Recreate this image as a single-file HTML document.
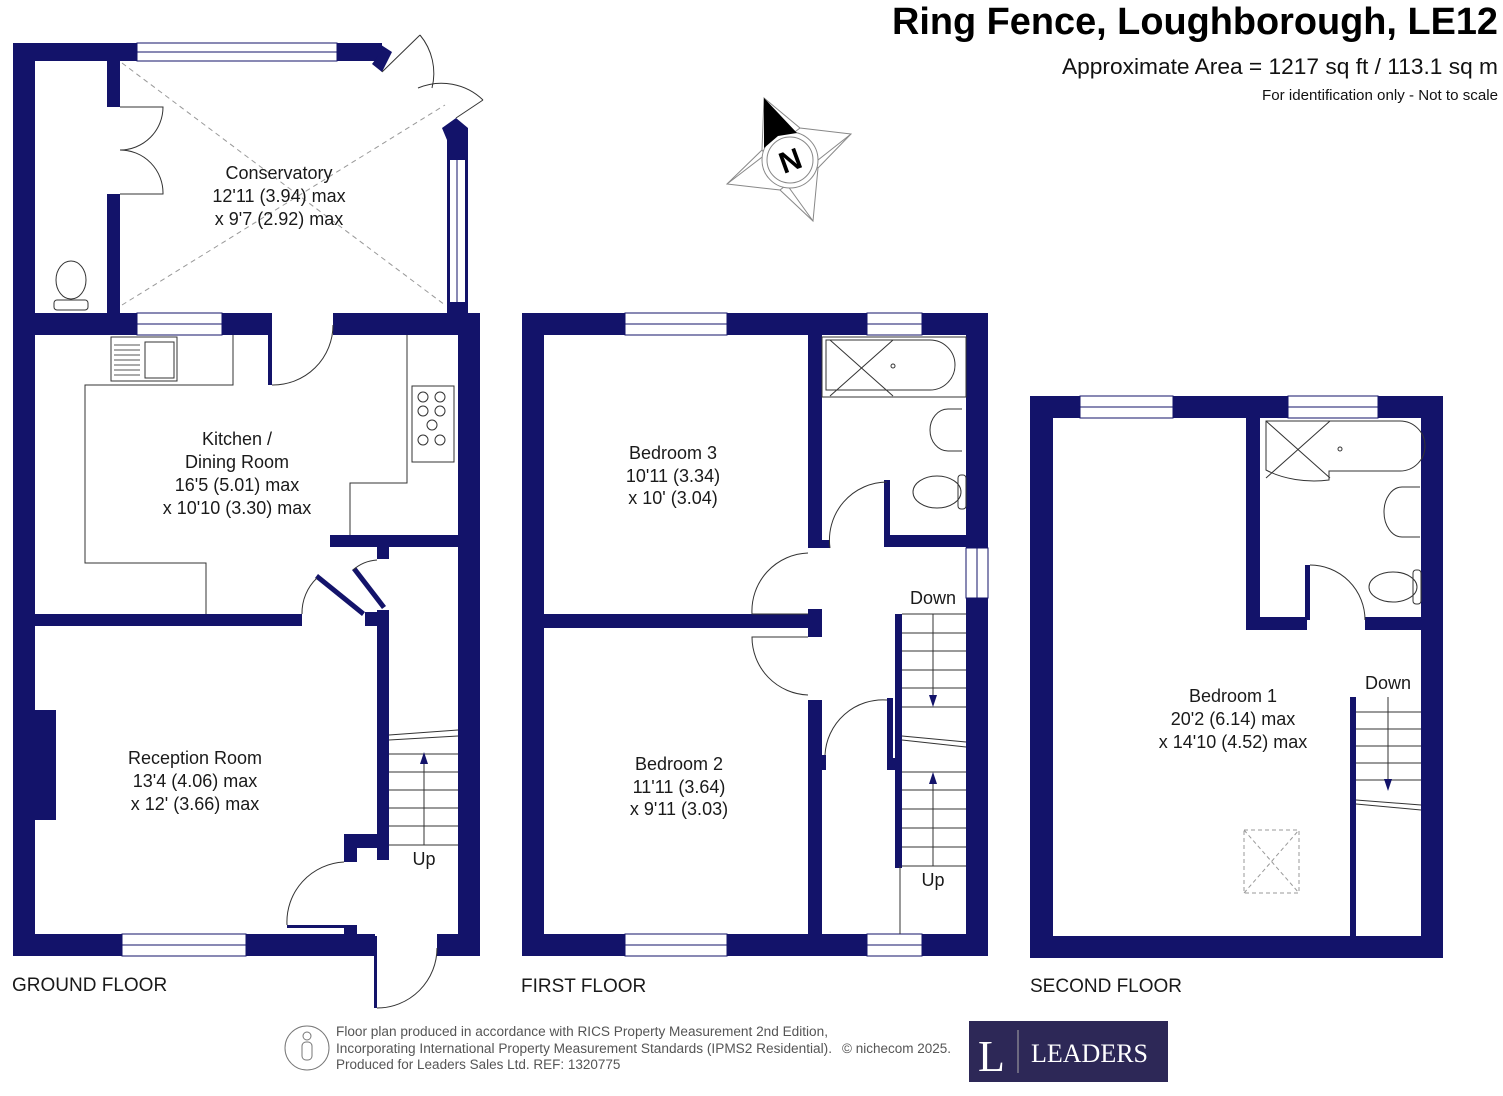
<!DOCTYPE html>
<html><head><meta charset="utf-8"><style>
html,body{margin:0;padding:0;background:#fff;}
svg{display:block;}
text{font-family:"Liberation Sans",sans-serif;fill:#1a1a1a;}
</style></head><body>
<svg width="1503" height="1096" viewBox="0 0 1503 1096" xmlns="http://www.w3.org/2000/svg">
<g fill="#13136a">
<!-- GROUND FLOOR -->
<rect x="13" y="43" width="22" height="913"/>
<rect x="13" y="43" width="124" height="18"/>
<rect x="337" y="43" width="45" height="18"/>
<polygon points="378,43 392,52 382,72 372,64 378,56"/>
<rect x="107" y="61" width="13" height="46"/>
<rect x="107" y="194" width="13" height="119"/>
<polygon points="442,128 456,118 468,128 468,160 447,160 447,140"/>
<rect x="447" y="150" width="3" height="155"/>
<rect x="465" y="150" width="3" height="155"/>
<rect x="447" y="302" width="21" height="11"/>
<rect x="13" y="313" width="124" height="22"/>
<rect x="222" y="313" width="48" height="22"/>
<rect x="268" y="313" width="4" height="72"/>
<rect x="333" y="313" width="147" height="22"/>
<rect x="458" y="313" width="22" height="643"/>
<rect x="35" y="614" width="267" height="12"/>
<rect x="330" y="535" width="128" height="12"/>
<rect x="377" y="547" width="12" height="12"/>
<rect x="365" y="612" width="24" height="14"/>
<rect x="377" y="610" width="12" height="250"/>
<rect x="344" y="834" width="45" height="14"/>
<rect x="344" y="834" width="13" height="28"/>
<rect x="35" y="710" width="21" height="110"/>
<rect x="13" y="934" width="109" height="22"/>
<rect x="246" y="934" width="129" height="22"/>
<rect x="437" y="934" width="43" height="22"/>
<rect x="344" y="925" width="13" height="12"/>
<rect x="287" y="925" width="60" height="3"/>
<rect x="374" y="936" width="3" height="72"/>
<polygon points="315,578 318,574 365,612 362,616"/>
<polygon points="352,570 356,567 386,606 382,609"/>
<!-- FIRST FLOOR -->
<rect x="522" y="313" width="103" height="22"/>
<rect x="727" y="313" width="140" height="22"/>
<rect x="922" y="313" width="66" height="22"/>
<rect x="522" y="313" width="22" height="643"/>
<rect x="966" y="313" width="22" height="235"/>
<rect x="966" y="598" width="22" height="358"/>
<rect x="522" y="934" width="103" height="22"/>
<rect x="727" y="934" width="140" height="22"/>
<rect x="922" y="934" width="66" height="22"/>
<rect x="808" y="335" width="14" height="213"/>
<rect x="808" y="540" width="22" height="8"/>
<rect x="544" y="614" width="264" height="14"/>
<rect x="808" y="609" width="14" height="28"/>
<rect x="808" y="700" width="14" height="234"/>
<rect x="808" y="755" width="18" height="15"/>
<rect x="888" y="535" width="78" height="12"/>
<rect x="884" y="480" width="6" height="67"/>
<rect x="887" y="698" width="6" height="72"/>
<rect x="887" y="758" width="13" height="12"/>
<rect x="895" y="614" width="7" height="254"/>
<!-- SECOND FLOOR -->
<rect x="1030" y="396" width="50" height="22"/>
<rect x="1173" y="396" width="115" height="22"/>
<rect x="1378" y="396" width="65" height="22"/>
<rect x="1030" y="396" width="23" height="562"/>
<rect x="1421" y="396" width="22" height="562"/>
<rect x="1030" y="936" width="413" height="22"/>
<rect x="1246" y="418" width="14" height="212"/>
<rect x="1246" y="617" width="61" height="13"/>
<rect x="1365" y="617" width="56" height="13"/>
<rect x="1305" y="565" width="5" height="55"/>
<rect x="1350" y="697" width="6" height="239"/>
</g>
<!-- windows -->
<g fill="none" stroke="#13136a" stroke-width="1">
<rect x="137" y="43" width="200" height="18"/><line x1="137" y1="52" x2="337" y2="52"/>
<rect x="137" y="313" width="85" height="22"/><line x1="137" y1="324" x2="222" y2="324"/>
<rect x="122" y="934" width="124" height="22"/><line x1="122" y1="945" x2="246" y2="945"/>
<line x1="457" y1="150" x2="457" y2="302"/>
<rect x="625" y="313" width="102" height="22"/><line x1="625" y1="324" x2="727" y2="324"/>
<rect x="867" y="313" width="55" height="22"/><line x1="867" y1="324" x2="922" y2="324"/>
<rect x="625" y="934" width="102" height="22"/><line x1="625" y1="945" x2="727" y2="945"/>
<rect x="867" y="934" width="55" height="22"/><line x1="867" y1="945" x2="922" y2="945"/>
<rect x="966" y="548" width="22" height="50"/><line x1="977" y1="548" x2="977" y2="598"/>
<rect x="1080" y="396" width="93" height="22"/><line x1="1080" y1="407" x2="1173" y2="407"/>
<rect x="1288" y="396" width="90" height="22"/><line x1="1288" y1="407" x2="1378" y2="407"/>
</g>
<!-- fixtures, doors, stairs -->
<g fill="none" stroke="#333" stroke-width="1">
<g stroke="#999" stroke-dasharray="5,4"><line x1="122" y1="63" x2="445" y2="305"/><line x1="122" y1="305" x2="445" y2="105"/></g>
<path d="M120,107 L163,107 A43,43 0 0 1 120,150"/>
<path d="M120,194 L163,194 A43,43 0 0 0 120,150"/>
<ellipse cx="71" cy="280" rx="15" ry="19"/><rect x="54" y="300" width="34" height="10" rx="3"/>
<path d="M420,35 A60,60 0 0 1 432,88"/><path d="M483,100 A60,60 0 0 0 418,88"/>
<line x1="382" y1="72" x2="420" y2="35"/><line x1="456" y1="118" x2="483" y2="100"/>
<path d="M272,385 A60,60 0 0 0 333,325"/>
<polyline points="233,335 233,385 85,385 85,563 206,563 206,614"/>
<polyline points="407,335 407,483 350,483 350,535"/>
<rect x="111" y="337" width="66" height="44"/>
<g stroke="#555"><line x1="114" y1="345" x2="140" y2="345"/><line x1="114" y1="350" x2="140" y2="350"/><line x1="114" y1="355" x2="140" y2="355"/><line x1="114" y1="360" x2="140" y2="360"/><line x1="114" y1="365" x2="140" y2="365"/><line x1="114" y1="370" x2="140" y2="370"/><line x1="114" y1="375" x2="140" y2="375"/></g>
<rect x="145" y="342" width="29" height="36"/>
<rect x="412" y="386" width="42" height="76"/>
<circle cx="423" cy="397" r="5"/><circle cx="440" cy="397" r="5"/><circle cx="423" cy="411" r="5"/><circle cx="440" cy="411" r="5"/><circle cx="432" cy="425" r="5"/><circle cx="423" cy="440" r="5"/><circle cx="440" cy="440" r="5"/>
<path d="M302,614 A48,48 0 0 1 317,578"/>
<path d="M353,570 A40,40 0 0 1 377,560"/>
<path d="M287,925 A60,60 0 0 1 344,862"/>
<path d="M377,1008 A60,60 0 0 0 437,948"/>
<line x1="389" y1="735" x2="458" y2="730"/><line x1="389" y1="740" x2="458" y2="736"/>
<line x1="389" y1="754" x2="458" y2="754"/><line x1="389" y1="772" x2="458" y2="772"/><line x1="389" y1="790" x2="458" y2="790"/><line x1="389" y1="808" x2="458" y2="808"/><line x1="389" y1="826" x2="458" y2="826"/><line x1="389" y1="845" x2="458" y2="845"/>
<line x1="424" y1="845" x2="424" y2="758"/>
<path d="M808,614 L752,614 A58,58 0 0 1 808,553"/>
<path d="M808,637 L752,637 A58,58 0 0 0 808,695"/>
<path d="M830,548 A58,58 0 0 1 887,482"/>
<path d="M825,755 A58,58 0 0 1 887,700"/>
<rect x="822" y="337" width="144" height="60"/>
<path d="M826,340 L930,340 A25,25 0 0 1 930,390 L826,390 Z"/>
<line x1="830" y1="340" x2="893" y2="396"/><line x1="830" y1="396" x2="893" y2="340"/>
<circle cx="893" cy="366" r="2"/>
<path d="M962,409 L948,409 A18,21 0 0 0 948,451 L962,451"/>
<ellipse cx="937" cy="492" rx="24" ry="16"/><rect x="958" y="475" width="8" height="34" rx="3"/>
<line x1="902" y1="614" x2="966" y2="614"/><line x1="902" y1="633" x2="966" y2="633"/><line x1="902" y1="651" x2="966" y2="651"/><line x1="902" y1="670" x2="966" y2="670"/><line x1="902" y1="688" x2="966" y2="688"/><line x1="902" y1="707" x2="966" y2="707"/>
<line x1="902" y1="736" x2="966" y2="742"/><line x1="902" y1="740" x2="966" y2="747"/>
<line x1="902" y1="772" x2="966" y2="772"/><line x1="902" y1="790" x2="966" y2="790"/><line x1="902" y1="809" x2="966" y2="809"/><line x1="902" y1="828" x2="966" y2="828"/><line x1="902" y1="847" x2="966" y2="847"/><line x1="902" y1="866" x2="966" y2="866"/>
<line x1="900" y1="866" x2="900" y2="934"/>
<line x1="933" y1="614" x2="933" y2="703"/><line x1="933" y1="866" x2="933" y2="778"/>
<path d="M1266,421 L1400,421 A25,25 0 0 1 1400,471 L1329,471 L1329,480 A70,40 0 0 1 1266,470 Z"/>
<line x1="1266" y1="421" x2="1330" y2="478"/><line x1="1266" y1="478" x2="1330" y2="421"/>
<circle cx="1340" cy="449" r="2"/>
<path d="M1420,487 L1402,487 A18,25 0 0 0 1402,537 L1420,537"/>
<ellipse cx="1393" cy="587" rx="24" ry="15"/><rect x="1413" y="570" width="8" height="34" rx="3"/>
<path d="M1310,565 A55,55 0 0 1 1365,620"/>
<line x1="1356" y1="712" x2="1421" y2="712"/><line x1="1356" y1="729" x2="1421" y2="729"/><line x1="1356" y1="746" x2="1421" y2="746"/><line x1="1356" y1="763" x2="1421" y2="763"/><line x1="1356" y1="780" x2="1421" y2="780"/>
<line x1="1356" y1="800" x2="1421" y2="805"/><line x1="1356" y1="804" x2="1421" y2="810"/>
<line x1="1388" y1="697" x2="1388" y2="785"/>
<rect x="1244" y="830" width="55" height="63" stroke="#999" stroke-dasharray="4,3"/>
<g stroke="#999" stroke-dasharray="4,3"><line x1="1244" y1="830" x2="1299" y2="893"/><line x1="1244" y1="893" x2="1299" y2="830"/></g>
</g>
<g fill="#13136a">
<polygon points="424,752 420,764 428,764"/>
<polygon points="933,707 929,695 937,695"/>
<polygon points="933,772 929,784 937,784"/>
<polygon points="1388,791 1384,779 1392,779"/>
</g>
<!-- compass -->
<g stroke="#888" stroke-width="1" fill="none">
<polygon points="764,98 800,128 851,134 818,168 813,221 780,190 727,184 762,150"/>
<line x1="764" y1="98" x2="818" y2="168"/><line x1="851" y1="134" x2="780" y2="190"/><line x1="813" y1="221" x2="762" y2="150"/><line x1="727" y1="184" x2="800" y2="128"/>
<circle cx="790" cy="160" r="28" fill="#fff"/><circle cx="790" cy="160" r="23"/>
</g>
<polygon points="764,98 797,133 778,136 764,148" fill="#000"/>
<text x="790" y="171" font-size="30" font-weight="bold" text-anchor="middle" transform="rotate(-20 790 160)" style="fill:#000">N</text>
<!-- labels -->
<g font-size="18" text-anchor="middle">
<text x="279" y="179">Conservatory</text><text x="279" y="202">12'11 (3.94) max</text><text x="279" y="225">x 9'7 (2.92) max</text>
<text x="237" y="445">Kitchen /</text><text x="237" y="468">Dining Room</text><text x="237" y="491">16'5 (5.01) max</text><text x="237" y="514">x 10'10 (3.30) max</text>
<text x="195" y="764">Reception Room</text><text x="195" y="787">13'4 (4.06) max</text><text x="195" y="810">x 12' (3.66) max</text>
<text x="673" y="459">Bedroom 3</text><text x="673" y="482">10'11 (3.34)</text><text x="673" y="504">x 10' (3.04)</text>
<text x="679" y="770">Bedroom 2</text><text x="679" y="793">11'11 (3.64)</text><text x="679" y="815">x 9'11 (3.03)</text>
<text x="1233" y="702">Bedroom 1</text><text x="1233" y="725">20'2 (6.14) max</text><text x="1233" y="748">x 14'10 (4.52) max</text>
<text x="424" y="865">Up</text><text x="933" y="604">Down</text><text x="933" y="886">Up</text><text x="1388" y="689">Down</text>
</g>
<g font-size="19">
<text x="12" y="991">GROUND FLOOR</text><text x="521" y="992">FIRST FLOOR</text><text x="1030" y="992">SECOND FLOOR</text>
</g>
<text x="1498" y="34" font-size="38" font-weight="bold" text-anchor="end" textLength="606" lengthAdjust="spacingAndGlyphs" style="fill:#000">Ring Fence, Loughborough, LE12</text>
<text x="1498" y="74" font-size="22" text-anchor="end" textLength="436" lengthAdjust="spacingAndGlyphs" style="fill:#111">Approximate Area = 1217 sq ft / 113.1 sq m</text>
<text x="1498" y="100" font-size="15" text-anchor="end" textLength="236" lengthAdjust="spacingAndGlyphs" style="fill:#111">For identification only - Not to scale</text>
<!-- footer -->
<g fill="none" stroke="#777"><circle cx="307" cy="1048" r="22"/><circle cx="307" cy="1036" r="4"/><rect x="302" y="1042" width="10" height="18" rx="4"/></g>
<g font-size="13.5">
<text x="336" y="1036" textLength="492" lengthAdjust="spacingAndGlyphs" style="fill:#555">Floor plan produced in accordance with RICS Property Measurement 2nd Edition,</text>
<text x="336" y="1053" textLength="496" lengthAdjust="spacingAndGlyphs" style="fill:#555">Incorporating International Property Measurement Standards (IPMS2 Residential).</text>
<text x="842" y="1053" style="fill:#555">© nichecom 2025.</text>
<text x="336" y="1069" style="fill:#555">Produced for Leaders Sales Ltd.   REF:  1320775</text>
</g>
<rect x="969" y="1021" width="199" height="61" fill="#2d2857"/>
<text x="978" y="1071" font-size="44" style="fill:#fff;font-family:'Liberation Serif',serif">L</text>
<line x1="1018" y1="1030" x2="1018" y2="1073" stroke="#aaa"/>
<text x="1031" y="1062" font-size="26" style="fill:#fff;font-family:'Liberation Serif',serif">LEADERS</text>
</svg>
</body></html>
